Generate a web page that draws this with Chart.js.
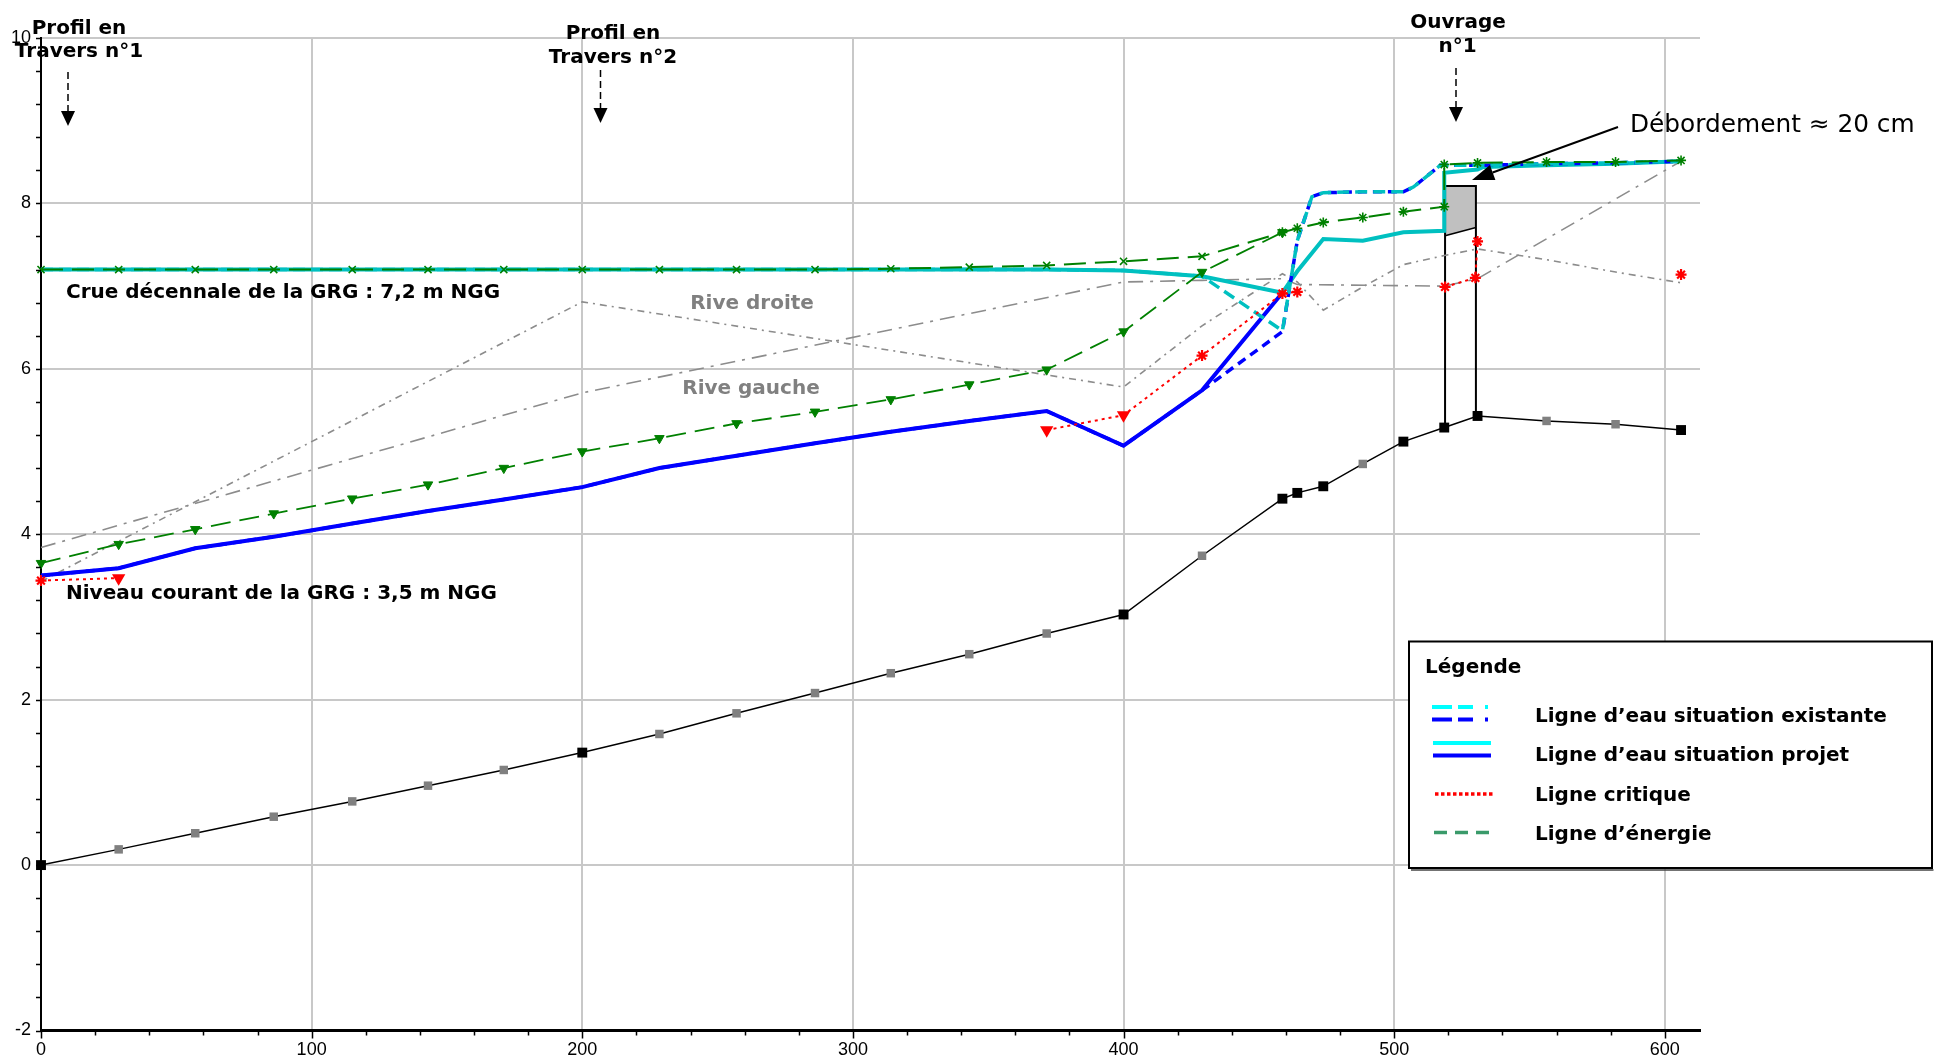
<!DOCTYPE html>
<html lang="fr">
<head>
<meta charset="utf-8">
<title>Profil en long – lignes d’eau</title>
<script src="https://cdn.jsdelivr.net/npm/chart.js@4.4.1/dist/chart.umd.min.js"></script>
<style>
  html, body { margin: 0; padding: 0; background: #fff; overflow: hidden; }
  #wrap { position: relative; width: 1935px; height: 1060px; }
  canvas { display: block; }
</style>
</head>
<body>
<div id="wrap"><canvas id="profil" width="1935" height="1060"></canvas></div>
<script>
// Abscisses des profils (m)
const profileX = [0, 28.7, 57, 86, 115, 143, 171, 200, 228.5, 257, 286, 314, 343, 371.6, 400, 429, 458.7, 464.2, 473.8, 488.4, 503.4, 518.5, 530.8, 556.3, 581.8, 606];
// 1 = profil levé, 0 = profil intermédiaire
const profileSurveyed = [1, 0, 0, 0, 0, 0, 0, 1, 0, 0, 0, 0, 0, 0, 1, 0, 1, 1, 1, 0, 1, 1, 1, 0, 0, 1];
// Cote du fond (m NGG)
const thalwegY = [0, 0.19, 0.385, 0.585, 0.77, 0.96, 1.15, 1.36, 1.585, 1.835, 2.08, 2.32, 2.55, 2.80, 3.03, 3.74, 4.43, 4.50, 4.58, 4.85, 5.12, 5.29, 5.43, 5.37, 5.33, 5.26];

// Berges
const riveDroiteX = [0, 200, 400, 429, 458.7, 464.2, 473.8, 488.4, 503.4, 518.5, 530.8, 556.3, 581.8, 606];
const riveDroiteY = [3.43, 6.81, 5.78, 6.52, 7.15, 7.05, 6.71, 6.99, 7.26, 7.37, 7.45, 7.32, 7.17, 7.04];
const riveGaucheX = [0, 200, 400, 429, 458.7, 464.2, 518.5, 530.8, 606];
const riveGaucheY = [3.84, 5.71, 7.05, 7.07, 7.09, 7.02, 7.0, 7.09, 8.51];

// Ligne d'eau – situation existante (crue décennale / niveau courant)
const existingX = [0, 28.7, 57, 86, 115, 143, 171, 200, 228.5, 257, 286, 314, 343, 371.6, 400, 429, 458.7, 464.2, 469.6, 473.8, 488.4, 503.4, 507.2, 517, 530.8, 556.3, 581.8, 606];
const crueExistY = [7.2, 7.2, 7.2, 7.2, 7.2, 7.2, 7.2, 7.2, 7.2, 7.2, 7.2, 7.2, 7.2, 7.2, 7.19, 7.12, 6.46, 7.55, 8.08, 8.13, 8.14, 8.14, 8.20, 8.46, 8.46, 8.48, 8.49, 8.51];
const courantExistY = [3.5, 3.59, 3.83, 3.97, 4.13, 4.28, 4.42, 4.57, 4.80, 4.95, 5.10, 5.24, 5.37, 5.49, 5.07, 5.74, 6.45, 7.55, 8.08, 8.13, 8.14, 8.14, 8.20, 8.46, 8.46, 8.48, 8.49, 8.51];

// Ligne d'eau – situation projet
const crueProjetX = [0, 28.7, 57, 86, 115, 143, 171, 200, 228.5, 257, 286, 314, 343, 371.6, 400, 429, 458.7, 464.2, 473.8, 488.4, 503.4, 518.5, 518.5, 530.8, 533, 556.3, 581.8, 606];
const crueProjetY = [7.2, 7.2, 7.2, 7.2, 7.2, 7.2, 7.2, 7.2, 7.2, 7.2, 7.2, 7.2, 7.2, 7.2, 7.19, 7.12, 6.92, 7.18, 7.57, 7.55, 7.65, 7.67, 8.37, 8.41, 8.44, 8.46, 8.48, 8.51];
const courantProjetX = [0, 28.7, 57, 86, 115, 143, 171, 200, 228.5, 257, 286, 314, 343, 371.6, 400, 429, 458.7];
const courantProjetY = [3.5, 3.59, 3.83, 3.97, 4.13, 4.28, 4.42, 4.57, 4.80, 4.95, 5.10, 5.24, 5.37, 5.49, 5.07, 5.74, 6.92];

// Lignes d'énergie
const energieCrueX = [0, 28.7, 57, 86, 115, 143, 171, 200, 228.5, 257, 286, 314, 343, 371.6, 400, 429, 458.7, 464.2, 473.8, 488.4, 503.4, 518.5, 518.5, 530.8, 556.3, 581.8, 606];
const energieCrueY = [7.2, 7.2, 7.2, 7.2, 7.2, 7.2, 7.2, 7.2, 7.2, 7.2, 7.2, 7.21, 7.23, 7.25, 7.30, 7.36, 7.65, 7.70, 7.77, 7.83, 7.90, 7.96, 8.47, 8.49, 8.50, 8.50, 8.52];
const energieCourantX = [0, 28.7, 57, 86, 115, 143, 171, 200, 228.5, 257, 286, 314, 343, 371.6, 400, 429, 458.7];
const energieCourantY = [3.65, 3.88, 4.06, 4.25, 4.43, 4.60, 4.80, 5.00, 5.16, 5.34, 5.48, 5.63, 5.81, 5.99, 6.45, 7.17, 7.65];

// Ligne critique (null = pas de hauteur critique calculée)
const critiqueX = [0, 28.7, 28.7, 371.6, 400, 429, 458.7, 464.2, 464.2, 518.8, 530, 530.8, 530.8, 606];
const critiqueY = [3.44, 3.47, null, 5.26, 5.44, 6.16, 6.91, 6.93, null, 6.99, 7.10, 7.54, null, 7.14];

// Ouvrage n°1 (culées, tablier)
const ouvrageX = [518.8, 530.2];
const ouvrageBase = [5.29, 5.43];
const ouvrageSoffite = [7.61, 7.71];
const ouvrageTop = 8.21;

// Axes
const xMin = 0, xMax = 613, xStep = 100, xMinorStep = 20;
const yMin = -2, yMax = 10, yStep = 2, yMinorStep = 0.4;

const pts = (xs, ys) => xs.map((x, i) => ({ x: x, y: ys[i] }));

const CYAN = '#00c0c0', BLUE = '#0000ff', GREEN = '#008000', RED = '#ff0000', BANK = '#8c8c8c';

// Ouvrage dessiné sous les lignes d'eau
const ouvragePlugin = {
  id: 'ouvrage',
  beforeDatasetsDraw(chart) {
    const { ctx, scales: { x, y } } = chart;
    const x0 = x.getPixelForValue(ouvrageX[0]), x1 = x.getPixelForValue(ouvrageX[1]);
    const yt = y.getPixelForValue(ouvrageTop);
    const s0 = y.getPixelForValue(ouvrageSoffite[0]), s1 = y.getPixelForValue(ouvrageSoffite[1]);
    const b0 = y.getPixelForValue(ouvrageBase[0]), b1 = y.getPixelForValue(ouvrageBase[1]);
    ctx.save();
    ctx.fillStyle = '#c0c0c0';
    ctx.beginPath();
    ctx.moveTo(x0, yt); ctx.lineTo(x1, yt); ctx.lineTo(x1, s1); ctx.lineTo(x0, s0); ctx.closePath();
    ctx.fill();
    ctx.strokeStyle = '#000';
    ctx.lineWidth = 2;
    ctx.beginPath();
    ctx.moveTo(x0, b0); ctx.lineTo(x0, yt); ctx.lineTo(x1, yt); ctx.lineTo(x1, b1);
    ctx.stroke();
    ctx.lineWidth = 1.5;
    ctx.beginPath();
    ctx.moveTo(x0, s0); ctx.lineTo(x1, s1);
    ctx.stroke();
    ctx.restore();
  }
};

// Graduations secondaires des axes
const minorTicksPlugin = {
  id: 'minorTicks',
  afterDatasetsDraw(chart) {
    const { ctx, scales: { x, y } } = chart;
    ctx.save();
    ctx.strokeStyle = '#000';
    ctx.lineWidth = 1.5;
    ctx.beginPath();
    const ny = Math.round((yMax - yMin) / yMinorStep);
    for (let i = 0; i <= ny; i++) {
      const py = Math.round(y.getPixelForValue(yMin + i * yMinorStep)) + 0.5;
      ctx.moveTo(x.left - 5, py); ctx.lineTo(x.left, py);
    }
    const nx = Math.floor(600 / xMinorStep);
    for (let i = 0; i <= nx; i++) {
      const v = i * xMinorStep;
      const px = Math.round(x.getPixelForValue(v)) + 0.5;
      const len = (v % xStep === 0) ? 8 : 5;
      ctx.moveTo(px, y.bottom); ctx.lineTo(px, y.bottom + len);
    }
    ctx.stroke();
    ctx.restore();
  }
};

function arrowDown(ctx, x, yStart, yTip) {
  const headLen = 15, headW = 14;
  ctx.save();
  ctx.strokeStyle = '#000';
  ctx.lineWidth = 1.5;
  ctx.setLineDash([7, 4]);
  ctx.beginPath();
  ctx.moveTo(x, yStart); ctx.lineTo(x, yTip - headLen);
  ctx.stroke();
  ctx.setLineDash([]);
  ctx.fillStyle = '#000';
  ctx.beginPath();
  ctx.moveTo(x - headW / 2, yTip - headLen); ctx.lineTo(x + headW / 2, yTip - headLen); ctx.lineTo(x, yTip);
  ctx.closePath();
  ctx.fill();
  ctx.restore();
}

function arrowTo(ctx, xs, ys, xt, yt) {
  const headLen = 22, headW = 16;
  const a = Math.atan2(yt - ys, xt - xs);
  const bx = xt - headLen * Math.cos(a), by = yt - headLen * Math.sin(a);
  ctx.save();
  ctx.strokeStyle = '#000';
  ctx.fillStyle = '#000';
  ctx.lineWidth = 2;
  ctx.beginPath();
  ctx.moveTo(xs, ys); ctx.lineTo(bx, by);
  ctx.stroke();
  ctx.beginPath();
  ctx.moveTo(xt, yt);
  ctx.lineTo(bx + headW / 2 * Math.sin(a), by - headW / 2 * Math.cos(a));
  ctx.lineTo(bx - headW / 2 * Math.sin(a), by + headW / 2 * Math.cos(a));
  ctx.closePath();
  ctx.fill();
  ctx.restore();
}

// Annotations et légende
const annotationsPlugin = {
  id: 'annotations',
  afterDraw(chart) {
    const { ctx } = chart;
    const bold = 'bold 20px "DejaVu Sans", Verdana, sans-serif';
    ctx.save();
    ctx.textBaseline = 'alphabetic';
    ctx.fillStyle = '#000';
    ctx.font = bold;

    ctx.textAlign = 'center';
    ctx.fillText('Profil en', 79, 34);
    ctx.fillText('Travers n°1', 79, 57);
    ctx.fillText('Profil en', 613, 39);
    ctx.fillText('Travers n°2', 613, 62.5);
    ctx.fillText('Ouvrage', 1458, 28);
    ctx.fillText('n°1', 1457.5, 51.5);

    arrowDown(ctx, 68, 72, 126);
    arrowDown(ctx, 600.5, 70, 123);
    arrowDown(ctx, 1456, 68, 122);

    ctx.textAlign = 'left';
    ctx.fillText('Crue décennale de la GRG : 7,2 m NGG', 66, 297.5);
    ctx.fillText('Niveau courant de la GRG : 3,5 m NGG', 66, 599);

    ctx.fillStyle = '#808080';
    ctx.textAlign = 'center';
    ctx.fillText('Rive droite', 752, 309);
    ctx.fillText('Rive gauche', 751, 394);

    ctx.fillStyle = '#000';
    ctx.textAlign = 'left';
    ctx.font = '24.8px "DejaVu Sans", Verdana, sans-serif';
    ctx.fillText('Débordement ≈ 20 cm', 1630, 131.5);
    arrowTo(ctx, 1618, 127, 1472, 180);

    // Légende
    const lx = 1409, ly = 641.5, lw = 523, lh = 226.5;
    ctx.fillStyle = '#fff';
    ctx.fillRect(lx, ly, lw, lh);
    ctx.strokeStyle = '#000';
    ctx.lineWidth = 2;
    ctx.strokeRect(lx, ly, lw, lh);
    ctx.strokeStyle = '#444';
    ctx.lineWidth = 1.5;
    ctx.beginPath();
    ctx.moveTo(lx + 2, ly + lh + 2); ctx.lineTo(lx + lw + 1.5, ly + lh + 2);
    ctx.stroke();

    ctx.fillStyle = '#000';
    ctx.font = bold;
    ctx.fillText('Légende', 1425, 673);
    const tx = 1535;
    ctx.fillText('Ligne d’eau situation existante', tx, 721.5);
    ctx.fillText('Ligne d’eau situation projet', tx, 760.5);
    ctx.fillText('Ligne critique', tx, 800.5);
    ctx.fillText('Ligne d’énergie', tx, 840);

    const seg = (color, w, dash, x0, x1, yy) => {
      ctx.strokeStyle = color;
      ctx.lineWidth = w;
      ctx.setLineDash(dash);
      ctx.beginPath();
      ctx.moveTo(x0, yy); ctx.lineTo(x1, yy);
      ctx.stroke();
    };
    ctx.lineCap = 'butt';
    seg('#00ffff', 4, [20, 6, 15, 12, 3, 50], 1432, 1490, 707);
    seg(BLUE, 4, [20, 6, 15, 12, 3, 50], 1432, 1490, 719.5);
    seg('#00ffff', 4, [], 1433, 1491, 743);
    seg(BLUE, 4, [], 1433, 1491, 755.5);
    seg(RED, 3.5, [3.5, 2.5], 1435, 1493, 794);
    seg('#3a9a6a', 3.5, [13, 8], 1434, 1497, 832.5);
    ctx.setLineDash([]);
    ctx.restore();
  }
};

const critStyles = critiqueX.map((_, i) => (i === 1 || i === 3 || i === 4) ? 'triangle' : 'star');
const critRot = critiqueX.map((_, i) => (i === 1 || i === 3 || i === 4) ? 180 : 0);

new Chart(document.getElementById('profil'), {
  type: 'scatter',
  data: {
    datasets: [
      {
        label: 'Ligne d’énergie (crue décennale)',
        data: pts(energieCrueX, energieCrueY),
        showLine: true, borderColor: GREEN, borderWidth: 2, borderDash: [22, 9],
        pointStyle: energieCrueX.map(x => x < 450 ? 'crossRot' : 'star'),
        pointRadius: 5, pointBorderColor: GREEN, pointBackgroundColor: GREEN, pointBorderWidth: 1.6,
        order: 1
      },
      {
        label: 'Ligne d’énergie (niveau courant)',
        data: pts(energieCourantX, energieCourantY),
        showLine: true, borderColor: GREEN, borderWidth: 1.8, borderDash: [20, 9],
        pointStyle: 'triangle', pointRotation: 180,
        pointRadius: 5.5, pointBorderColor: GREEN, pointBackgroundColor: GREEN, pointBorderWidth: 1,
        order: 2
      },
      {
        label: 'Ligne critique',
        data: pts(critiqueX, critiqueY),
        showLine: true, spanGaps: false, borderColor: RED, borderWidth: 2, borderDash: [3, 4],
        pointStyle: critStyles, pointRotation: critRot,
        pointRadius: 5.5, pointBorderColor: RED, pointBackgroundColor: RED, pointBorderWidth: 2.2,
        order: 3
      },
      {
        label: 'Crue décennale – situation existante',
        data: pts(existingX, crueExistY),
        showLine: true, borderColor: CYAN, borderWidth: 3.5, borderDash: [12, 6],
        pointRadius: 0, order: 4
      },
      {
        label: 'Niveau courant – situation existante',
        data: pts(existingX, courantExistY),
        showLine: true, borderColor: BLUE, borderWidth: 3.5, borderDash: [9, 6],
        pointRadius: 0, order: 5
      },
      {
        label: 'Crue décennale – situation projet',
        data: pts(crueProjetX, crueProjetY),
        showLine: true, borderColor: CYAN, borderWidth: 4,
        pointRadius: 0, order: 6
      },
      {
        label: 'Niveau courant – situation projet',
        data: pts(courantProjetX, courantProjetY),
        showLine: true, borderColor: BLUE, borderWidth: 4,
        pointRadius: 0, order: 7
      },
      {
        label: 'Fond',
        data: pts(profileX, thalwegY),
        showLine: true, borderColor: '#000', borderWidth: 1.5,
        pointStyle: 'rect',
        pointRadius: profileSurveyed.map(s => s ? 7 : 6),
        pointBackgroundColor: profileSurveyed.map(s => s ? '#000' : '#808080'),
        pointBorderColor: profileSurveyed.map(s => s ? '#000' : '#808080'),
        pointBorderWidth: 0,
        order: 8
      },
      {
        label: 'Rive droite',
        data: pts(riveDroiteX, riveDroiteY),
        showLine: true, borderColor: BANK, borderWidth: 1.6, borderDash: [7, 5, 2, 5],
        pointRadius: 0, order: 9
      },
      {
        label: 'Rive gauche',
        data: pts(riveGaucheX, riveGaucheY),
        showLine: true, borderColor: BANK, borderWidth: 1.6, borderDash: [15, 7, 3, 7],
        pointRadius: 0, order: 10
      }
    ]
  },
  options: {
    responsive: false,
    devicePixelRatio: 1,
    animation: false,
    events: [],
    clip: false,
    layout: { padding: { top: 38, right: 235, bottom: 0, left: 0 } },
    elements: { line: { tension: 0, borderCapStyle: 'butt' } },
    plugins: { legend: { display: false }, tooltip: { enabled: false } },
    scales: {
      x: {
        type: 'linear', min: xMin, max: xMax,
        ticks: {
          stepSize: xStep, includeBounds: false, maxRotation: 0, color: '#000', padding: 9,
          font: { family: '"Liberation Sans Narrow", "Liberation Sans", Arial, sans-serif', size: 18 }
        },
        grid: { color: '#c8c8c8', lineWidth: 2, drawTicks: false },
        border: { display: true, color: '#000', width: 3 },
        afterFit(scale) { scale.height = 29.5; }
      },
      y: {
        type: 'linear', min: yMin, max: yMax,
        ticks: {
          stepSize: yStep, color: '#000', padding: 10,
          font: { family: '"Liberation Sans", Arial, sans-serif', size: 18 }
        },
        grid: { color: '#c8c8c8', lineWidth: 2, drawTicks: false },
        border: { display: true, color: '#000', width: 2 },
        afterFit(scale) { scale.width = 41; }
      }
    }
  },
  plugins: [ouvragePlugin, minorTicksPlugin, annotationsPlugin]
});
</script>
</body>
</html>
